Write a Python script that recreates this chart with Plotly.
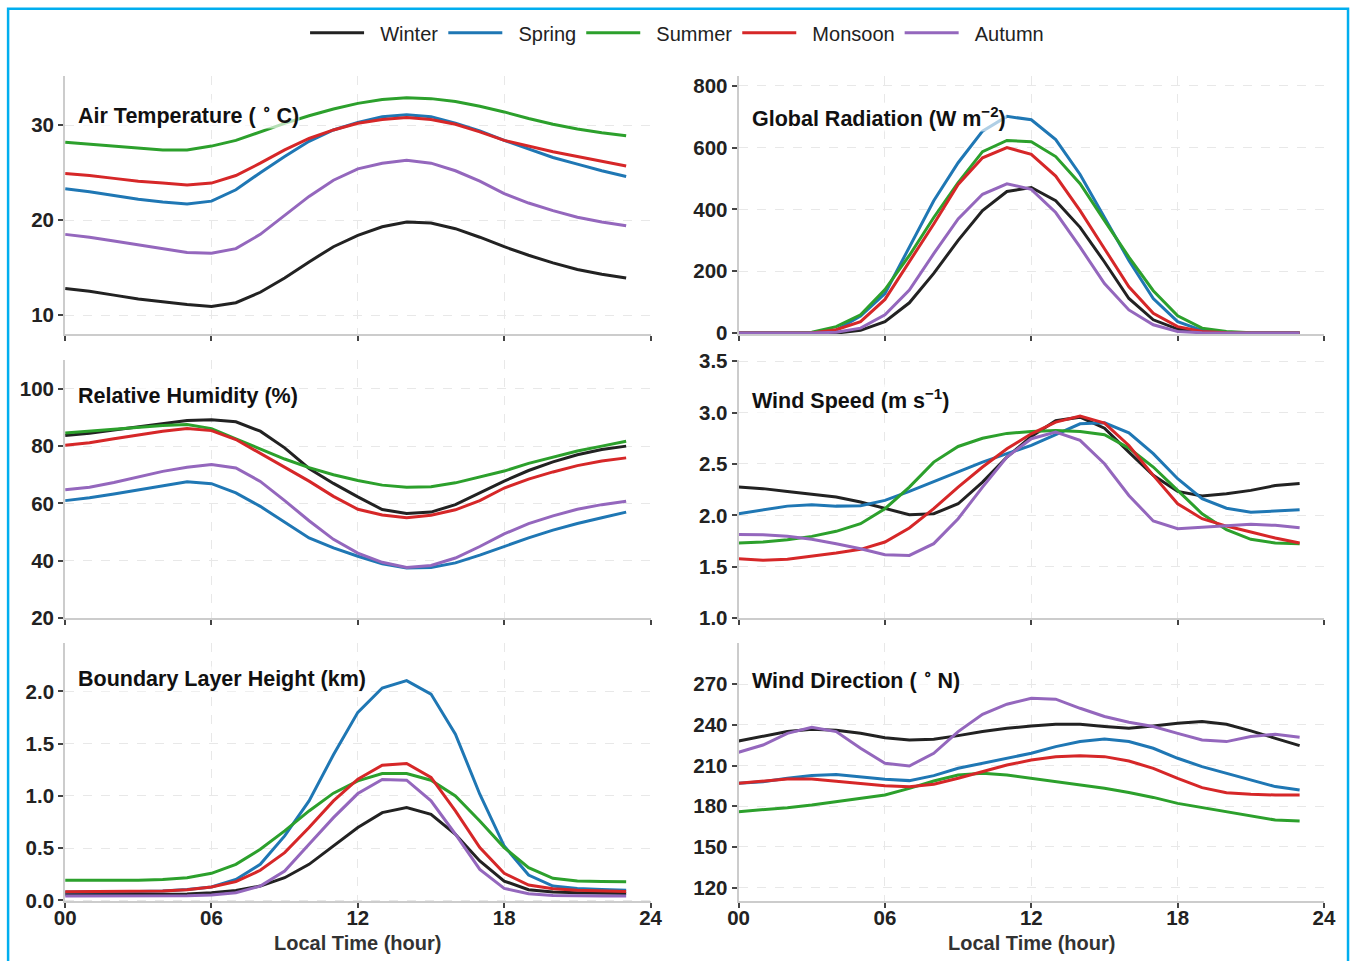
import plotly.graph_objects as go

hours = list(range(24))
seasons = ["Winter", "Spring", "Summer", "Monsoon", "Autumn"]
colors = ["#222222", "#1f77b4", "#2ca02c", "#d62728", "#9467bd"]

# Air Temperature (deg C)
at_winter = [12.8, 12.5, 12.1, 11.7, 11.4, 11.1, 10.9, 11.3, 12.4, 13.9, 15.6, 17.2, 18.4, 19.3, 19.8, 19.7, 19.1, 18.2, 17.2, 16.3, 15.5, 14.8, 14.3, 13.9]
at_spring = [23.3, 23.0, 22.6, 22.2, 21.9, 21.7, 22.0, 23.2, 25.0, 26.7, 28.3, 29.5, 30.3, 30.9, 31.1, 30.9, 30.2, 29.4, 28.4, 27.5, 26.6, 25.9, 25.2, 24.6]
at_summer = [28.2, 28.0, 27.8, 27.6, 27.4, 27.4, 27.8, 28.4, 29.3, 30.2, 31.0, 31.7, 32.3, 32.7, 32.9, 32.8, 32.5, 32.0, 31.4, 30.7, 30.1, 29.6, 29.2, 28.9]
at_monsoon = [24.9, 24.7, 24.4, 24.1, 23.9, 23.7, 23.9, 24.7, 26.0, 27.4, 28.6, 29.5, 30.2, 30.6, 30.8, 30.6, 30.1, 29.3, 28.4, 27.8, 27.2, 26.7, 26.2, 25.7]
at_autumn = [18.5, 18.2, 17.8, 17.4, 17.0, 16.6, 16.5, 17.0, 18.5, 20.5, 22.5, 24.2, 25.4, 26.0, 26.3, 26.0, 25.2, 24.1, 22.8, 21.8, 21.0, 20.3, 19.8, 19.4]

# Global Radiation (W m-2)
gr_winter = [0, 0, 0, 0, 0, 9, 37, 98, 193, 300, 396, 458, 471, 428, 342, 230, 112, 43, 13, 2, 0, 0, 0, 0]
gr_spring = [0, 0, 0, 0, 10, 55, 128, 278, 428, 551, 653, 701, 690, 626, 513, 374, 235, 112, 37, 9, 2, 0, 0, 0]
gr_summer = [0, 0, 0, 3, 21, 59, 141, 251, 374, 487, 587, 623, 619, 571, 483, 364, 246, 137, 56, 16, 5, 1, 0, 0]
gr_monsoon = [0, 0, 0, 0, 11, 37, 109, 230, 353, 481, 567, 600, 578, 508, 396, 273, 150, 64, 21, 5, 1, 0, 0, 0]
gr_autumn = [0, 0, 0, 0, 3, 16, 59, 139, 257, 369, 449, 483, 465, 390, 278, 160, 75, 27, 5, 1, 0, 0, 0, 0]

# Relative Humidity (%)
rh_winter = [83.7, 84.5, 85.6, 86.7, 87.8, 88.9, 89.2, 88.5, 85.2, 79.4, 72.2, 67.0, 62.3, 57.9, 56.5, 57.0, 59.6, 63.7, 67.8, 71.5, 74.5, 77.0, 78.8, 80.0]
rh_spring = [61.0, 62.0, 63.3, 64.8, 66.3, 67.6, 66.9, 63.7, 59.0, 53.5, 48.0, 44.5, 41.6, 39.0, 37.5, 37.7, 39.3, 42.0, 45.1, 48.0, 50.7, 53.0, 55.0, 57.0]
rh_summer = [84.6, 85.3, 86.0, 86.7, 87.2, 87.5, 86.1, 82.5, 79.0, 75.5, 72.5, 70.0, 68.0, 66.4, 65.7, 65.8, 67.2, 69.2, 71.3, 74.0, 76.2, 78.3, 80.0, 81.7]
rh_monsoon = [80.3, 81.2, 82.6, 83.9, 85.2, 86.1, 85.4, 82.3, 77.5, 72.5, 67.8, 62.5, 58.0, 56.0, 55.0, 55.9, 57.8, 61.0, 65.4, 68.5, 71.0, 73.2, 74.8, 75.9]
rh_autumn = [64.8, 65.7, 67.3, 69.3, 71.2, 72.6, 73.6, 72.4, 67.7, 61.0, 54.0, 47.5, 42.7, 39.5, 37.7, 38.4, 41.0, 45.0, 49.4, 53.0, 55.7, 58.0, 59.6, 60.8]

# Wind Speed (m s-1)
ws_winter = [2.275, 2.26, 2.233, 2.207, 2.178, 2.13, 2.065, 2.006, 2.016, 2.113, 2.324, 2.567, 2.767, 2.92, 2.955, 2.848, 2.615, 2.389, 2.233, 2.188, 2.21, 2.243, 2.29, 2.31]
ws_spring = [2.016, 2.055, 2.09, 2.104, 2.09, 2.094, 2.146, 2.233, 2.33, 2.427, 2.518, 2.6, 2.68, 2.784, 2.89, 2.9, 2.803, 2.6, 2.356, 2.162, 2.07, 2.03, 2.04, 2.055]
ws_summer = [1.731, 1.741, 1.764, 1.796, 1.845, 1.919, 2.065, 2.275, 2.518, 2.67, 2.75, 2.797, 2.816, 2.826, 2.816, 2.784, 2.654, 2.47, 2.243, 2.016, 1.861, 1.767, 1.731, 1.725]
ws_monsoon = [1.579, 1.563, 1.573, 1.60, 1.634, 1.67, 1.741, 1.877, 2.065, 2.275, 2.47, 2.648, 2.793, 2.907, 2.965, 2.897, 2.68, 2.389, 2.113, 1.968, 1.896, 1.838, 1.78, 1.731]
ws_autumn = [1.815, 1.812, 1.796, 1.767, 1.725, 1.676, 1.618, 1.611, 1.725, 1.968, 2.275, 2.567, 2.745, 2.81, 2.729, 2.502, 2.194, 1.945, 1.87, 1.883, 1.903, 1.913, 1.903, 1.88]

# Boundary Layer Height (km)
blh_winter = [0.058, 0.058, 0.058, 0.059, 0.059, 0.062, 0.073, 0.096, 0.137, 0.217, 0.345, 0.52, 0.697, 0.84, 0.888, 0.824, 0.633, 0.377, 0.185, 0.102, 0.08, 0.073, 0.07, 0.067]
blh_spring = [0.08, 0.08, 0.082, 0.085, 0.09, 0.105, 0.128, 0.2, 0.345, 0.617, 0.952, 1.393, 1.799, 2.032, 2.102, 1.974, 1.591, 1.016, 0.52, 0.243, 0.137, 0.115, 0.105, 0.096]
blh_summer = [0.192, 0.19, 0.19, 0.193, 0.2, 0.217, 0.259, 0.345, 0.489, 0.665, 0.856, 1.026, 1.144, 1.214, 1.214, 1.15, 1.0, 0.76, 0.505, 0.313, 0.211, 0.185, 0.182, 0.179]
blh_monsoon = [0.083, 0.083, 0.083, 0.085, 0.09, 0.102, 0.128, 0.179, 0.288, 0.457, 0.697, 0.952, 1.16, 1.294, 1.31, 1.176, 0.856, 0.505, 0.259, 0.147, 0.112, 0.096, 0.09, 0.086]
blh_autumn = [0.042, 0.042, 0.042, 0.043, 0.044, 0.045, 0.051, 0.073, 0.137, 0.281, 0.537, 0.792, 1.022, 1.157, 1.15, 0.952, 0.633, 0.297, 0.115, 0.064, 0.048, 0.042, 0.042, 0.042]

# Wind Direction (deg N)
wd_winter = [228.2, 231.4, 235.1, 236.8, 236.1, 233.8, 230.6, 228.9, 229.4, 232.1, 235.1, 237.5, 239.3, 240.5, 240.5, 238.8, 237.5, 239.3, 241.2, 242.5, 240.5, 235.6, 230.1, 224.7]
wd_spring = [196.9, 198.1, 200.6, 202.6, 203.5, 201.8, 199.9, 198.9, 202.6, 208.0, 211.7, 214.9, 219.1, 224.0, 227.7, 229.7, 227.7, 222.8, 215.4, 209.2, 204.3, 199.4, 194.5, 192.0]
wd_summer = [176.0, 177.2, 178.9, 180.9, 183.3, 185.8, 188.3, 193.2, 198.6, 203.1, 204.3, 203.1, 200.6, 198.1, 195.7, 193.2, 190.1, 186.5, 182.1, 178.9, 176.0, 172.8, 169.8, 169.1]
wd_monsoon = [196.9, 198.6, 200.1, 200.1, 198.6, 196.9, 195.2, 194.4, 196.2, 200.6, 205.5, 210.4, 214.1, 216.6, 217.3, 216.6, 213.4, 208.0, 200.6, 193.7, 190.0, 188.8, 188.3, 188.3]
wd_autumn = [219.8, 225.2, 233.8, 238.3, 235.1, 222.8, 211.7, 209.7, 219.1, 235.1, 247.9, 255.3, 259.7, 259.0, 252.3, 246.2, 242.0, 238.8, 233.8, 228.9, 227.7, 231.4, 233.1, 230.9]

panel_titles = [
    "Air Temperature ( <sup>∘</sup> C)",
    "Global Radiation (W m<sup>−2</sup>)",
    "Relative Humidity (%)",
    "Wind Speed (m s<sup>−1</sup>)",
    "Boundary Layer Height (km)",
    "Wind Direction ( <sup>∘</sup> N)",
]
x_tickvals = [0, 6, 12, 18, 24]
x_ticktext = ["00", "06", "12", "18", "24"]
x_title = "Local Time (hour)"

panels = [
    [at_winter, at_spring, at_summer, at_monsoon, at_autumn],
    [gr_winter, gr_spring, gr_summer, gr_monsoon, gr_autumn],
    [rh_winter, rh_spring, rh_summer, rh_monsoon, rh_autumn],
    [ws_winter, ws_spring, ws_summer, ws_monsoon, ws_autumn],
    [blh_winter, blh_spring, blh_summer, blh_monsoon, blh_autumn],
    [wd_winter, wd_spring, wd_summer, wd_monsoon, wd_autumn],
]

# The viewer shows the page slightly shrunk and offset; map target picture
# pixels to page pixels accordingly.
AX, AY = 10.9, 10.2
SX, SY = 0.9825, 0.9767
FW, FH = 1368, 974
def px(x):
    return ((x - AX) / SX) / FW
def py(y):
    return 1 - ((y - AY) / SY) / FH

col_dom = [[px(65), px(650)], [px(738), px(1323)]]
row_dom = [[py(333), py(75)], [py(617), py(359)], [py(900), py(642)]]

y_specs = [
    dict(range=[8.0, 35.2], tickvals=[10, 20, 30], tickformat="d"),
    dict(range=[-3, 832], tickvals=[0, 200, 400, 600, 800], tickformat="d"),
    dict(range=[20, 110], tickvals=[20, 40, 60, 80, 100], tickformat="d"),
    dict(range=[1.0, 3.51], tickvals=[1.0, 1.5, 2.0, 2.5, 3.0, 3.5], tickformat=".1f"),
    dict(range=[-0.01, 2.46], tickvals=[0.0, 0.5, 1.0, 1.5, 2.0], tickformat=".1f"),
    dict(range=[109.7, 300.3], tickvals=[120, 150, 180, 210, 240, 270], tickformat="d"),
]

fig = go.Figure()
tickfont = dict(family="Liberation Sans, Arial, sans-serif", size=20.5, color="#222222", weight="bold")
layout = {}
annotations = []
for i, series in enumerate(panels):
    r, c = divmod(i, 2)
    ax = "" if i == 0 else str(i + 1)
    for s, (name, col, vals) in enumerate(zip(seasons, colors, series)):
        fig.add_trace(go.Scatter(
            x=hours, y=vals, mode="lines", name="\u00a0\u00a0" + name,
            line=dict(color=col, width=3),
            showlegend=(i == 0), legendgroup=name,
            xaxis="x" + ax, yaxis="y" + ax,
        ))
    common = dict(
        showline=True, linecolor="#cccccc", linewidth=2,
        ticks="outside", ticklen=5, tickwidth=1.5, tickcolor="#444444",
        showgrid=True, gridcolor="#e8e8e8", gridwidth=1, griddash="dash",
        zeroline=False, tickfont=tickfont,
    )
    layout["xaxis" + ax] = dict(
        common, domain=col_dom[c], range=[0, 24], tickvals=x_tickvals,
        ticktext=x_ticktext, showticklabels=(r == 2), ticklabelstandoff=-8,
        anchor="y" + ax,
    )
    layout["yaxis" + ax] = dict(
        common, domain=row_dom[r], anchor="x" + ax, **y_specs[i],
    )
    tx = 77 if c == 0 else 750
    ty = [113, 395, 678][r] + (3 if c == 1 and r < 2 else 0)
    annotations.append(dict(
        x=px(tx), y=py(ty), xref="paper", yref="paper", xanchor="left", yanchor="middle",
        text=panel_titles[i], showarrow=False,
        font=dict(family="Liberation Sans, Arial, sans-serif", size=21.5, color="#111111", weight="bold"),
        bgcolor="rgba(255,255,255,0.65)", borderpad=0,
    ))

for c, cx in enumerate([357.5, 1030.5]):
    annotations.append(dict(
        x=px(cx), y=py(942), xref="paper", yref="paper", xanchor="center", yanchor="middle",
        text=x_title, showarrow=False,
        font=dict(family="Liberation Sans, Arial, sans-serif", size=20, color="#333333", weight="bold"),
    ))

fig.update_layout(
    width=FW, height=FH,
    margin=dict(l=0, r=0, t=0, b=0),
    paper_bgcolor="white", plot_bgcolor="white",
    annotations=annotations,
    legend=dict(orientation="h", x=px(676.5), xanchor="center", y=py(32), yanchor="middle",
                font=dict(family="Liberation Sans, Arial, sans-serif", size=20, color="#222222"),
                itemwidth=54, bgcolor="rgba(0,0,0,0)"),
    shapes=[dict(type="rect", xref="paper", yref="paper",
                 x0=px(8), x1=px(1347), y0=-0.05, y1=py(8),
                 line=dict(color="#00aeef", width=2.5), fillcolor="rgba(0,0,0,0)", layer="above")],
    **layout,
)

fig.write_html(
    "out.html",
    config={"displayModeBar": False},
    post_script="document.body.style.margin='0';document.body.style.padding='0';document.body.style.overflow='hidden';document.documentElement.style.overflow='hidden';",
)
